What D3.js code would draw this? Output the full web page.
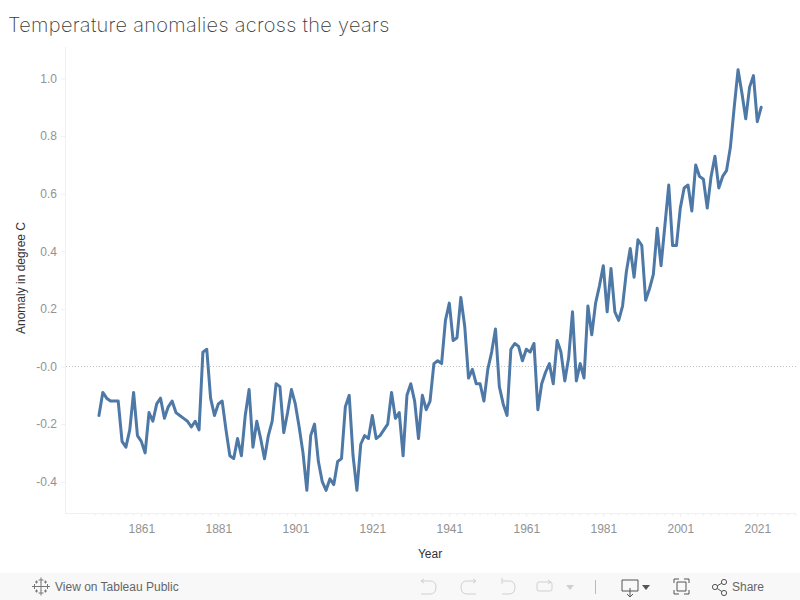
<!DOCTYPE html>
<html><head><meta charset="utf-8">
<script src="https://cdn.jsdelivr.net/npm/d3@7"></script>
<style>html,body{margin:0;padding:0;background:#fff;overflow:hidden}svg{display:block}</style>
</head><body><svg id="c" width="800" height="600"></svg>
<script>
const firstYear = 1850;
const anomalies = [-0.17,-0.09,-0.11,-0.12,-0.12,-0.12,-0.26,-0.28,-0.22,-0.09,
-0.24,-0.26,-0.30,-0.16,-0.19,-0.13,-0.11,-0.18,-0.14,-0.12,
-0.16,-0.17,-0.18,-0.19,-0.21,-0.19,-0.22,0.05,0.06,-0.11,
-0.17,-0.13,-0.12,-0.22,-0.31,-0.32,-0.25,-0.31,-0.17,-0.08,
-0.28,-0.19,-0.25,-0.32,-0.24,-0.19,-0.06,-0.07,-0.23,-0.16,
-0.08,-0.13,-0.21,-0.30,-0.43,-0.24,-0.20,-0.33,-0.40,-0.43,
-0.39,-0.41,-0.33,-0.32,-0.14,-0.10,-0.31,-0.43,-0.27,-0.24,
-0.25,-0.17,-0.25,-0.24,-0.22,-0.20,-0.09,-0.18,-0.16,-0.31,
-0.10,-0.06,-0.12,-0.25,-0.10,-0.15,-0.12,0.01,0.02,0.01,
0.16,0.22,0.09,0.10,0.24,0.14,-0.04,-0.01,-0.06,-0.06,
-0.12,-0.01,0.05,0.13,-0.07,-0.13,-0.17,0.06,0.08,0.07,
0.02,0.06,0.05,0.08,-0.15,-0.06,-0.02,0.01,-0.06,0.09,
0.05,-0.05,0.03,0.19,-0.05,0.01,-0.04,0.21,0.11,0.22,
0.28,0.35,0.19,0.34,0.19,0.16,0.21,0.33,0.41,0.31,
0.44,0.42,0.23,0.27,0.32,0.48,0.35,0.49,0.63,0.42,
0.42,0.55,0.62,0.63,0.54,0.70,0.66,0.65,0.55,0.66,
0.73,0.62,0.66,0.68,0.76,0.90,1.03,0.95,0.86,0.97,
1.01,0.85,0.90];
const years = anomalies.map((_, i) => firstYear + i);
const xTicks = [1861,1881,1901,1921,1941,1961,1981,2001,2021];
const yTicks = [1.0,0.8,0.6,0.4,0.2,0,-0.2,-0.4];
const titleText = "Temperature anomalies across the years";

const svg = d3.select("#c");
const x = d3.scaleLinear().domain([1861,2021]).range([141.3,757.3]);
const y = d3.scaleLinear().domain([0,1]).range([366.5,78.5]);
const axisCol = "#f0f0f0", tickText = "#929292";
const sans = "Liberation Sans";

svg.append("text").attr("x",8).attr("y",32).attr("font-family","Inter").attr("font-weight",200)
  .attr("font-size",20).attr("letter-spacing",0.3).attr("fill","#3c3c3c").text(titleText);

// minor ticks, one every two years from the first major tick
const minor = d3.range(1849,2055,2).filter(v=>x(v)>66 && x(v)<796);
svg.append("g").selectAll("line").data(minor).join("line")
  .attr("x1",d=>x(d)).attr("x2",d=>x(d)).attr("y1",514).attr("y2",515.5).attr("stroke","#ececec");

// axes
const left = svg.append("g").attr("transform","translate(65,0)")
  .call(d3.axisLeft(y).tickValues(yTicks).tickSize(4).tickFormat(d=>d===0?"-0.0":d3.format(".1f")(d).replace("−","-")));
const bottom = svg.append("g").attr("transform","translate(0,513)")
  .call(d3.axisBottom(x).tickValues(xTicks).tickSize(4).tickFormat(d3.format("d")));
[left,bottom].forEach(g=>{
  g.select(".domain").remove();
  g.selectAll("line").attr("stroke",axisCol);
  g.selectAll("text").attr("font-family",sans).attr("font-size",12).attr("fill",tickText);
});
left.selectAll("text").attr("x",-8);
bottom.selectAll("text").attr("y",11);
svg.append("line").attr("x1",65.5).attr("x2",65.5).attr("y1",47).attr("y2",513).attr("stroke",axisCol);
svg.append("line").attr("x1",65).attr("x2",796).attr("y1",513.5).attr("y2",513.5).attr("stroke",axisCol);

// zero line
svg.append("line").attr("x1",66).attr("x2",796).attr("y1",y(0)).attr("y2",y(0))
  .attr("stroke","#c4c4c4").attr("stroke-width",1).attr("stroke-dasharray","1 2");

// line
svg.append("path").datum(anomalies)
  .attr("d",d3.line().x((d,i)=>x(years[i])).y(d=>y(d)))
  .attr("fill","none").attr("stroke","#4e79a7").attr("stroke-width",3)
  .attr("stroke-linejoin","round").attr("stroke-linecap","round");

// axis titles
svg.append("text").attr("x",430).attr("y",558).attr("text-anchor","middle").attr("font-family",sans)
  .attr("font-size",12).attr("fill","#333").text("Year");
svg.append("text").attr("transform","translate(25,278) rotate(-90)").attr("text-anchor","middle").attr("font-family",sans)
  .attr("font-size",12).attr("fill","#333").text("Anomaly in degree C");

// toolbar
const tb = svg.append("g");
tb.append("rect").attr("x",0).attr("y",573).attr("width",800).attr("height",27).attr("fill","#f8f8f8");
const ic = (d,col,w)=>tb.append("path").attr("d",d).attr("fill","none").attr("stroke",col).attr("stroke-width",w||1);
// tableau logo
[[41,586.5,4.5],[34.5,586.5,2.5],[47.5,586.5,2.5],[41,580,2.5],[41,593,2.5],[36.5,582,1.5],[45.5,582,1.5],[36.5,591,1.5],[45.5,591,1.5]].forEach(([a,b,r])=>
  ic(`M${a-r},${b}H${a+r}M${a},${b-r}V${b+r}`,"#777",1));
tb.append("text").attr("x",55).attr("y",591).attr("font-family",sans).attr("font-weight",400).attr("font-size",12).attr("fill","#666").text("View on Tableau Public");
const gi="#d0d0d0";
ic("M421,581H430Q436,581 436,587Q436,594 430,594H421",gi);
ic("M421,581l3,-2M421,581l3,2",gi);
ic("M476,581H467Q461,581 461,587Q461,594 467,594H476",gi);
ic("M476,581l-3,-2M476,581l-3,2",gi);
ic("M502,578V584M502,581H509Q515,581 515,587Q515,594 509,594H502",gi);
ic("M545,582H550Q552,582 552,584V589Q552,591 550,591H539Q537,591 537,589V584Q537,582 539,582H545M548,580l3,2l-3,2",gi);
tb.append("path").attr("d","M566,585H574L570,590Z").attr("fill",gi);
ic("M595.5,580V594","#bbb");
ic("M622,580H638V591H622ZM630,588V597M627,594l3,3l3,-3","#555");
tb.append("path").attr("d","M642,585H650L646,590Z").attr("fill","#555");
ic("M674,583V579H679M684,579H689V583M689,590V594H684M679,594H674V590M677,582H686V591H677Z","#555");
ic("M715,587L724,582M715,587L724,593","#555");
[[715,587],[724,582],[724,593]].forEach(([a,b])=>tb.append("circle").attr("cx",a).attr("cy",b).attr("r",2.6).attr("fill","#f8f8f8").attr("stroke","#555"));
tb.append("text").attr("x",732).attr("y",591).attr("font-family",sans).attr("font-size",12).attr("fill","#666").text("Share");
</script></body></html>
